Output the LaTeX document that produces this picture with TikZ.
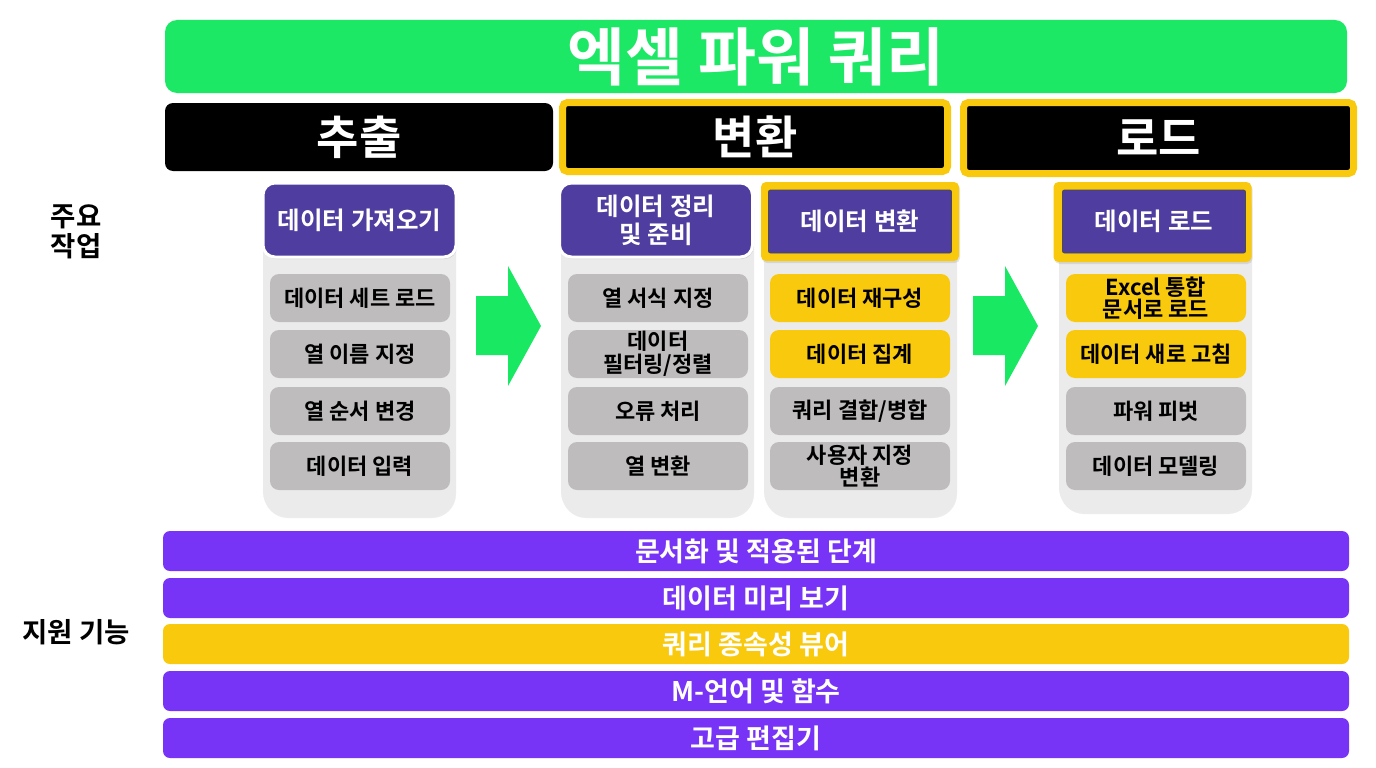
\documentclass[tikz,border=0pt]{standalone}
\usepackage{fontspec}
\setmainfont{Noto Sans CJK KR}[BoldFont={Noto Sans CJK KR Bold}]
\usetikzlibrary{shadows}
\definecolor{ttlgreen}{HTML}{1DE866}
\definecolor{arrgreen}{HTML}{19E863}
\definecolor{hdpurple}{HTML}{4F3D9F}
\definecolor{barpurple}{HTML}{7834F6}
\definecolor{gold}{HTML}{F8C90C}
\definecolor{itemgray}{HTML}{BEBCBC}
\definecolor{panelgray}{HTML}{EBEBEB}
\tikzset{
  title/.style={fill=ttlgreen, rounded corners=12pt, minimum width=1182pt, minimum height=73pt, text=white, font=\fontsize{63}{70}\selectfont\bfseries},
  hdr/.style={fill=black, rounded corners=8pt, text=white, font=\fontsize{46}{50}\selectfont\bfseries},
  hdrgold/.style={hdr, draw=gold, line width=7pt, rounded corners=5pt},
  panel/.style={fill=panelgray, rounded corners=24pt, minimum width=192pt, drop shadow={opacity=0.15, shadow xshift=1pt, shadow yshift=-2pt}},
  topbox/.style={fill=hdpurple, draw=white, line width=3pt, rounded corners=12pt, minimum width=193pt, minimum height=74pt, text=white, align=center, font=\fontsize{24.5}{28}\selectfont\bfseries, inner sep=1pt, drop shadow={opacity=0.25, shadow xshift=1pt, shadow yshift=-2pt}},
  goldframe/.style={fill=gold, rounded corners=5pt, minimum width=198pt, minimum height=79pt, drop shadow={opacity=0.2, shadow xshift=1pt, shadow yshift=-2pt}},
  topinner/.style={fill=hdpurple, draw=black!70, line width=0.8pt, rounded corners=2pt, minimum width=183pt, minimum height=63pt, text=white, align=center, font=\fontsize{24.5}{28}\selectfont\bfseries},
  item/.style={fill=itemgray, rounded corners=9pt, minimum width=180pt, minimum height=48pt, align=center, font=\fontsize{22}{22.5}\selectfont\bfseries, inner sep=1pt},
  itemgold/.style={item, fill=gold},
  bar/.style={fill=barpurple, rounded corners=7pt, minimum width=1186pt, minimum height=40pt, text=white, font=\fontsize{27}{30}\selectfont\bfseries, inner sep=1pt},
  bargold/.style={bar, fill=gold},
  side/.style={align=center, font=\fontsize{27.5}{30}\selectfont\bfseries},
  bigarrow/.style={fill=arrgreen}
}
\begin{document}
\begin{tikzpicture}[x=1pt,y=-1pt]
\useasboundingbox (0,0) rectangle (1376,768);
\fill[white] (0,0) rectangle (1376,768);

% title
\node[title] (ttl) at (756,56.5) {엑셀 파워 쿼리};

% headers
\node[hdr, minimum width=388pt, minimum height=68pt] (hExtract) at (359,137) {추출};
\node[hdrgold, minimum width=385pt, minimum height=69pt] (hTransform) at (755,137) {변환};
\node[hdrgold, minimum width=390pt, minimum height=71pt] (hLoad) at (1158.5,138) {로드};

% side labels
\node[side] (sMain) at (76,232) {주요\\작업};
\node[side] (sSupport) at (76,632) {지원 기능};

% panels
\node[panel, minimum height=334pt] (p1) at (359,349) {};
\node[panel, minimum height=334pt] (p2) at (657,349) {};
\node[panel, minimum height=334pt] (p3) at (860,349) {};
\node[panel, minimum height=330pt] (p4) at (1155,347) {};

% top boxes
\node[topbox] (t1) at (359.5,220) {데이터 가져오기};
\node[topbox] (t2) at (656,220) {데이터 정리\\및 준비};
\node[goldframe] (t3f) at (860,221.5) {};
\node[topinner] (t3) at (860,221.5) {데이터 변환};
\node[goldframe, minimum height=80pt] (t4f) at (1152.5,222) {};
\node[topinner] (t4) at (1154,221.5) {데이터 로드};

% column 1
\node[item] (a1) at (360,298) {데이터 세트 로드};
\node[item] (a2) at (360,354) {열 이름 지정};
\node[item] (a3) at (360,411) {열 순서 변경};
\node[item] (a4) at (360,466) {데이터 입력};

% column 2a
\node[item] (b1) at (658,298) {열 서식 지정};
\node[item] (b2) at (658,354) {데이터\\필터링/정렬};
\node[item] (b3) at (658,411) {오류 처리};
\node[item] (b4) at (658,466) {열 변환};

% column 2b
\node[itemgold] (c1) at (860,298) {데이터 재구성};
\node[itemgold] (c2) at (860,354) {데이터 집계};
\node[item] (c3) at (860,411) {쿼리 결합/병합};
\node[item] (c4) at (860,466) {사용자 지정\\변환};

% column 3
\node[itemgold] (d1) at (1156,298) {Excel 통합\\문서로 로드};
\node[itemgold] (d2) at (1156,354) {데이터 새로 고침};
\node[item] (d3) at (1156,411) {파워 피벗};
\node[item] (d4) at (1156,466) {데이터 모델링};

% arrows
\fill[bigarrow] (476,296) -- (508,296) -- (508,266) -- (541,326) -- (508,386) -- (508,355) -- (476,355) -- cycle;
\fill[bigarrow] (973,296) -- (1005,296) -- (1005,266) -- (1038,326) -- (1005,386) -- (1005,355) -- (973,355) -- cycle;

% bottom bars
\node[bar] (f1) at (756,551) {문서화 및 적용된 단계};
\node[bar] (f2) at (756,598) {데이터 미리 보기};
\node[bargold] (f3) at (756,644) {쿼리 종속성 뷰어};
\node[bar] (f4) at (756,691) {M-언어 및 함수};
\node[bar] (f5) at (756,738) {고급 편집기};
\end{tikzpicture}
\end{document}
